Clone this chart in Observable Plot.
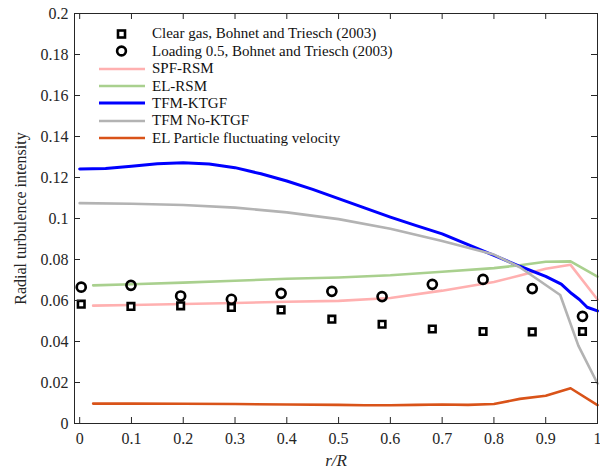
<!DOCTYPE html>
<html>
<head>
<meta charset="utf-8">
<script src="https://cdn.jsdelivr.net/npm/d3@7"></script>
<script src="https://cdn.jsdelivr.net/npm/@observablehq/plot@0.6"></script>
<style>
  body { margin: 0; background: #fff; }
  #wrap { position: relative; width: 600px; height: 474px; font-family: "Liberation Serif", "Times New Roman", Times, "DejaVu Serif", serif; }
  #legend { position: absolute; left: 98px; top: 25px; font-size: 15px; color: #111; font-family: "Liberation Serif", "Times New Roman", Times, "DejaVu Serif", serif; }
  #legend .row { display: flex; align-items: center; height: 17.45px; }
  #legend svg { width: 48px; height: 12px; margin-right: 6px; flex: none; }
  svg text { font-family: "Liberation Serif", "Times New Roman", Times, "DejaVu Serif", serif; }
  g[aria-label="x-axis label"] text { font-style: italic; font-size: 17px; }
</style>
</head>
<body>
<div id="wrap"><div id="chart"></div><div id="legend"></div></div>
<script>
// ---- data ----
const xTicks = [0, 0.1, 0.2, 0.3, 0.4, 0.5, 0.6, 0.7, 0.8, 0.9, 1];
const yTicks = [0, 0.02, 0.04, 0.06, 0.08, 0.1, 0.12, 0.14, 0.16, 0.18, 0.2];

const expX = [0.003, 0.099, 0.195, 0.293, 0.389, 0.487, 0.584, 0.681, 0.779, 0.874, 0.971];
const clearGas = [0.0582, 0.0571, 0.0574, 0.0566, 0.0554, 0.0509, 0.0484, 0.0461, 0.0449, 0.0447, 0.0449];
const loading05 = [0.0665, 0.0674, 0.0622, 0.0606, 0.0635, 0.0645, 0.0619, 0.0679, 0.0703, 0.0658, 0.0523];

const rsmX = [0.026, 0.1, 0.2, 0.3, 0.4, 0.5, 0.6, 0.7, 0.8, 0.85, 0.9, 0.948, 1.0];
const spfRsm = [0.0575, 0.0578, 0.0583, 0.0588, 0.0594, 0.0598, 0.0612, 0.0648, 0.0690, 0.0722, 0.0755, 0.0774, 0.0605];
const elRsm = [0.0674, 0.0679, 0.0687, 0.0696, 0.0706, 0.0712, 0.0723, 0.0740, 0.0758, 0.0772, 0.0789, 0.0791, 0.0716];

const ktgfX = [0, 0.05, 0.1, 0.15, 0.2, 0.25, 0.3, 0.35, 0.4, 0.45, 0.5, 0.55, 0.6, 0.65, 0.7, 0.75, 0.8, 0.85, 0.9, 0.93, 0.95, 0.965, 0.98, 1.0];
const tfmKtgf = [0.1242, 0.1244, 0.1255, 0.1267, 0.1272, 0.1266, 0.1248, 0.1218, 0.1183, 0.1142, 0.1097, 0.1052, 0.1007, 0.0965, 0.0925, 0.0872, 0.0820, 0.0767, 0.0718, 0.0680, 0.0634, 0.0605, 0.0567, 0.0549];

const noKtgfX = [0, 0.1, 0.2, 0.3, 0.4, 0.5, 0.6, 0.7, 0.75, 0.8, 0.85, 0.886, 0.928, 0.963, 1.0];
const tfmNoKtgf = [0.1075, 0.1072, 0.1066, 0.1053, 0.1030, 0.0997, 0.0950, 0.0890, 0.0857, 0.0824, 0.0762, 0.0700, 0.0627, 0.0380, 0.0195];

const partX = [0.026, 0.1, 0.2, 0.3, 0.4, 0.5, 0.55, 0.6, 0.65, 0.7, 0.75, 0.8, 0.85, 0.9, 0.948, 1.0];
const elParticle = [0.0097, 0.0097, 0.0096, 0.0095, 0.0093, 0.0091, 0.0089, 0.0089, 0.0091, 0.0093, 0.0091, 0.0095, 0.0120, 0.0135, 0.0172, 0.0090];

const seriesNames = ["Clear gas, Bohnet and Triesch (2003)", "Loading 0.5, Bohnet and Triesch (2003)",
  "SPF-RSM", "EL-RSM", "TFM-KTGF", "TFM No-KTGF", "EL Particle fluctuating velocity"];

// ---- build tables ----
const pts = (xs, ys) => xs.map((x, i) => ({x, y: ys[i]}));
const lines = [
  {name: seriesNames[2], data: pts(rsmX, spfRsm), color: "#ffb0b0", w: 2.6},
  {name: seriesNames[3], data: pts(rsmX, elRsm), color: "#a9d08e", w: 2.6},
  {name: seriesNames[4], data: pts(ktgfX, tfmKtgf), color: "#0000ff", w: 3},
  {name: seriesNames[5], data: pts(noKtgfX, tfmNoKtgf), color: "#b3b3b3", w: 2.6},
  {name: seriesNames[6], data: pts(partX, elParticle), color: "#d95319", w: 2.6}
];
const ink = "#262626";
const serif = "Liberation Serif, Times New Roman, Times, DejaVu Serif, serif";

// layout
const W = 600, H = 474, mL = 74, mR = 3, mT = 13, mB = 51, tick = 6;
const plotW = W - mL - mR, plotH = H - mT - mB;

const chart = Plot.plot({
  width: W,
  height: H,
  marginLeft: mL,
  marginRight: mR,
  marginTop: mT,
  marginBottom: mB,
  style: {fontFamily: serif, fontSize: "16px", color: ink, background: "#fff"},
  x: {domain: [-0.01, 1]},
  y: {domain: [0, 0.2]},
  marks: [
    ...lines.map(s => Plot.line(s.data, {x: "x", y: "y", stroke: s.color, strokeWidth: s.w, strokeLinejoin: "round"})),
    Plot.dot(pts(expX, clearGas), {x: "x", y: "y", symbol: "square", r: 3.7, stroke: "#000", strokeWidth: 2.6, fill: "#fff"}),
    Plot.dot(pts(expX, loading05), {x: "x", y: "y", symbol: "circle", r: 4.5, stroke: "#000", strokeWidth: 2.7, fill: "none"}),
    // inward ticks on all four sides
    Plot.tickX(xTicks, {x: d => d, insetTop: plotH - tick, stroke: ink, strokeWidth: 1}),
    Plot.tickX(xTicks, {x: d => d, insetBottom: plotH - tick, stroke: ink, strokeWidth: 1}),
    Plot.tickY(yTicks, {y: d => d, insetRight: plotW - tick, stroke: ink, strokeWidth: 1}),
    Plot.tickY(yTicks, {y: d => d, insetLeft: plotW - tick, stroke: ink, strokeWidth: 1}),
    Plot.frame({stroke: ink}),
    Plot.axisX({ticks: xTicks, tickSize: 0, tickPadding: 9, tickFormat: d => String(d), fontSize: 16, fontFamily: serif,
      label: "r/R", labelAnchor: "center", labelArrow: "none", labelOffset: 42}),
    Plot.axisY({ticks: yTicks, tickSize: 0, tickPadding: 6, tickFormat: d => String(d), fontSize: 16, fontFamily: serif,
      label: "Radial turbulence intensity", labelAnchor: "center", labelArrow: "none", labelOffset: 60})
  ]
});
document.getElementById("chart").appendChild(chart);

// ---- legend ----
const legend = document.getElementById("legend");
const rows = [
  {name: seriesNames[0], sym: '<rect x="20" y="2.5" width="7" height="7" fill="#fff" stroke="#000" stroke-width="2.6"/>'},
  {name: seriesNames[1], sym: '<circle cx="23.5" cy="6" r="4.4" fill="none" stroke="#000" stroke-width="2.6"/>'},
  ...lines.map(s => ({name: s.name, sym: `<line x1="1" x2="47" y1="6" y2="6" stroke="${s.color}" stroke-width="${s.w}"/>`}))
];
for (const r of rows) {
  const row = document.createElement("div");
  row.className = "row";
  row.innerHTML = `<svg viewBox="0 0 48 12">${r.sym}</svg><span>${r.name}</span>`;
  legend.appendChild(row);
}
</script>
</body>
</html>
